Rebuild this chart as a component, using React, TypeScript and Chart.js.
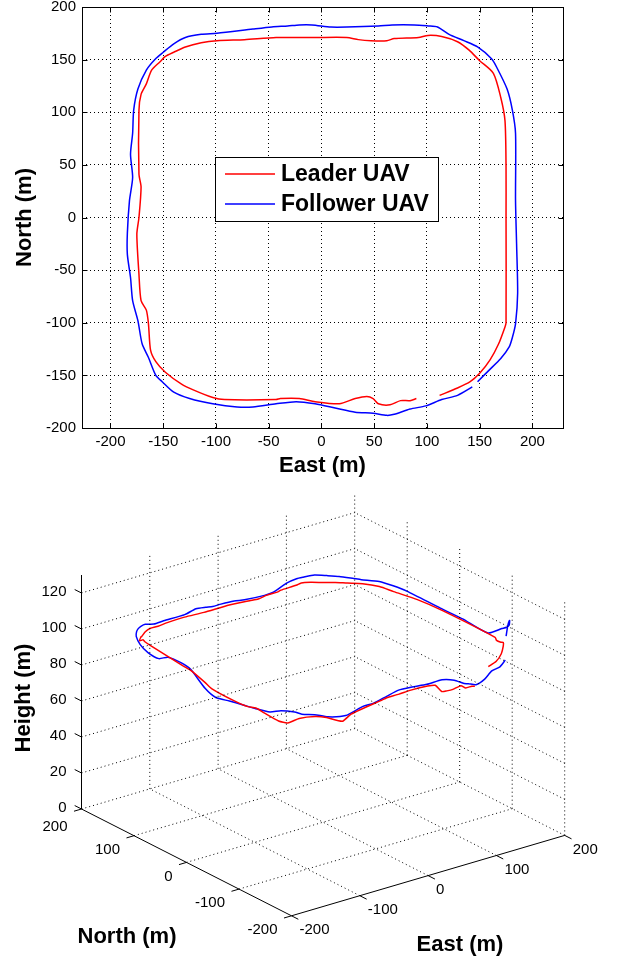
import React, { useEffect, useRef } from 'react';
import { Chart, registerables } from 'chart.js';
Chart.register(...registerables);

// ---------------- data ----------------
const SERIES_LABELS = ['Leader UAV', 'Follower UAV'];
const SERIES_COLORS = ['#ff0000', '#0000ff'];

const LEADER_EAST = [112, 129, 141, 150, 160, 168, 174, 175, 175, 175, 174, 170, 163, 150, 140, 129, 114, 101, 92, 69, 62, 47, 35, 24, -6, -43, -73, -99, -114, -129, -140, -148, -153, -161, -166, -171, -173, -173, -171, -173, -175, -173, -171, -166, -164, -162, -157, -148, -133, -121, -103, -92, -43, -39, -21, -6, 17, 32, 43, 49, 54, 65, 75, 84, 90];
const LEADER_NORTH = [-169, -162, -156, -148, -135, -120, -104, -100, 0, 48, 92, 114, 137, 149, 159, 167, 172, 173, 171, 170, 168, 168, 169, 171, 171, 171, 169, 168, 166, 162, 157, 153, 148, 140, 127, 117, 102, 41, 29, 0, -16, -54, -79, -88, -101, -126, -137, -147, -158, -164, -171, -173, -173, -172, -172, -175, -177, -172, -170, -172, -177, -178, -174, -174, -172];
const LEADER_HEIGHT = [99, 99, 101, 103, 102, 99, 97, 98, 98, 97, 95, 95, 94, 94, 94, 94, 95, 96, 96, 96, 96, 96, 95, 95, 96, 96, 97, 97, 97, 98, 98, 97, 98, 98, 101, 102, 102, 100, 99, 97, 96, 95, 95, 95, 94, 93, 93, 96, 97, 96, 93, 96, 99, 99, 99, 100, 100, 98, 93, 93, 94, 95, 92, 92, 91];

const FOLLOWER_EAST = [148, 159, 170, 178, 181, 184, 186, 185, 184, 184, 181, 176, 166, 161, 148, 135, 121, 110, 101, 88, 67, 54, 24, 9, -9, -21, -32, -47, -65, -99, -114, -129, -140, -150, -157, -166, -174, -178, -179, -181, -179, -182, -184, -184, -181, -179, -174, -170, -164, -157, -151, -140, -125, -103, -80, -65, -43, -24, -6, 13, 32, 49, 62, 69, 84, 99, 114, 129, 143];
const FOLLOWER_NORTH = [-156, -145, -134, -123, -114, -101, -72, -25, 16, 80, 102, 122, 143, 151, 162, 168, 174, 181, 182, 183, 183, 182, 181, 181, 183, 183, 182, 181, 179, 175, 174, 171, 165, 157, 151, 140, 122, 102, 80, 60, 38, 16, -15, -35, -57, -79, -98, -120, -133, -150, -156, -166, -172, -177, -180, -180, -177, -175, -177, -181, -185, -186, -188, -187, -182, -179, -173, -169, -161];
const FOLLOWER_HEIGHT = [110, 113, 113, 108, 105, 102, 95, 96, 96, 96, 96, 96, 95, 95, 96, 97, 98, 97, 97, 96, 93, 93, 94, 95, 95, 95, 96, 97, 96, 97, 97, 99, 100, 101, 101, 101, 100, 99, 99, 103, 103, 103, 97, 95, 96, 97, 97, 98, 100, 101, 100, 100, 98, 97, 100, 100, 101, 102, 102, 102, 103, 101, 98, 97, 94, 95, 97, 97, 98];

const PLAN_X_TICKS = [-200, -150, -100, -50, 0, 50, 100, 150, 200];
const PLAN_Y_TICKS = [-200, -150, -100, -50, 0, 50, 100, 150, 200];
const PLAN_X_RANGE = [-227, 229];
const PLAN_Y_RANGE = [-200, 200];

const EN_TICKS_3D = [-200, -100, 0, 100, 200];
const Z_TICKS_3D = [0, 20, 40, 60, 80, 100, 120];
const Z_MAX_3D = 130;

// ---------------- styles ----------------
const FONT = '"Liberation Sans", Arial, Helvetica, sans-serif';
const TICK_FONT = `15px ${FONT}`;
const TITLE_FONT = `bold 22px ${FONT}`;
const LEGEND_FONT = `bold 23px ${FONT}`;

// projection of the 3-D view (az -37.5, el 30) into view units
const VIEW = { eu: 0.683, nu: -0.525, ev: 0.201, nv: 0.267, zv: 1.8 };
const project = (e: number, n: number, z: number) => ({
  x: VIEW.eu * e + VIEW.nu * n,
  y: VIEW.ev * e + VIEW.nv * n + VIEW.zv * z,
});

const crisp = (v: number) => Math.round(v) + 0.5;

function PlanChart() {
  const ref = useRef<HTMLCanvasElement>(null);
  useEffect(() => {
    const toPts = (xs: number[], ys: number[]) => xs.map((x, i) => ({ x, y: ys[i] }));
    const boxPlugin = {
      id: 'planBox',
      afterDatasetsDraw(chart: any) {
        const { ctx, chartArea: a, scales } = chart;
        ctx.save();
        ctx.strokeStyle = '#000';
        ctx.lineWidth = 1;
        ctx.setLineDash([]);
        const L = crisp(a.left), R = crisp(a.right), T = crisp(a.top), B = crisp(a.bottom);
        ctx.strokeRect(L, T, R - L, B - T);
        const tl = 5;
        ctx.beginPath();
        PLAN_X_TICKS.forEach((v) => {
          const x = crisp(scales.x.getPixelForValue(v));
          ctx.moveTo(x, B); ctx.lineTo(x, B - tl);
          ctx.moveTo(x, T); ctx.lineTo(x, T + tl);
        });
        PLAN_Y_TICKS.forEach((v) => {
          const y = crisp(scales.y.getPixelForValue(v));
          ctx.moveTo(L, y); ctx.lineTo(L + tl, y);
          ctx.moveTo(R, y); ctx.lineTo(R - tl, y);
        });
        ctx.stroke();
        // legend
        const lx = 215.5, ly = 157.5, lw = 223, lh = 64;
        ctx.fillStyle = '#fff';
        ctx.fillRect(lx, ly, lw, lh);
        ctx.strokeRect(lx, ly, lw, lh);
        chart.data.datasets.forEach((ds: any, i: number) => {
          const y = 174 + i * 30;
          ctx.strokeStyle = ds.borderColor;
          ctx.lineWidth = 1.5;
          ctx.beginPath();
          ctx.moveTo(225, y); ctx.lineTo(275, y);
          ctx.stroke();
          ctx.fillStyle = '#000';
          ctx.font = LEGEND_FONT;
          ctx.textAlign = 'left';
          ctx.textBaseline = 'middle';
          ctx.fillText(ds.label, 281, y + 1);
        });
        ctx.restore();
      },
    };
    const tickCfg = { font: { family: FONT, size: 15 }, color: '#000', autoSkip: false, maxRotation: 0 };
    const chart = new Chart(ref.current as HTMLCanvasElement, {
      type: 'scatter',
      data: {
        datasets: [
          { label: SERIES_LABELS[0], data: toPts(LEADER_EAST, LEADER_NORTH), showLine: true, borderColor: SERIES_COLORS[0], backgroundColor: SERIES_COLORS[0], borderWidth: 1.5, pointRadius: 0, tension: 0.25 },
          { label: SERIES_LABELS[1], data: toPts(FOLLOWER_EAST, FOLLOWER_NORTH), showLine: true, borderColor: SERIES_COLORS[1], backgroundColor: SERIES_COLORS[1], borderWidth: 1.5, pointRadius: 0, tension: 0.25 },
        ],
      },
      options: {
        animation: false,
        responsive: false,
        events: [],
        layout: { padding: { left: 0, right: 55, top: 7, bottom: 0 } },
        plugins: { legend: { display: false }, tooltip: { enabled: false } },
        scales: {
          x: {
            type: 'linear', min: PLAN_X_RANGE[0], max: PLAN_X_RANGE[1],
            afterBuildTicks: (s: any) => { s.ticks = PLAN_X_TICKS.map((v) => ({ value: v })); },
            afterFit: (s: any) => { s.height = 52; s.paddingLeft = 0; s.paddingRight = 0; s.paddingTop = 0; s.paddingBottom = 0; },
            grid: { color: '#000', lineWidth: 1, drawTicks: false },
            border: { display: false, dash: [1, 3] },
            ticks: { ...tickCfg, padding: 5 },
            title: { display: true, text: 'East (m)', color: '#000', font: { family: FONT, size: 22, weight: 'bold' }, padding: { top: 0, bottom: 1 } },
          },
          y: {
            type: 'linear', min: PLAN_Y_RANGE[0], max: PLAN_Y_RANGE[1],
            afterBuildTicks: (s: any) => { s.ticks = PLAN_Y_TICKS.map((v) => ({ value: v })); },
            afterFit: (s: any) => { s.width = 82; s.paddingTop = 0; s.paddingBottom = 0; s.paddingLeft = 0; s.paddingRight = 0; },
            grid: { color: '#000', lineWidth: 1, drawTicks: false },
            border: { display: false, dash: [1, 3] },
            ticks: { ...tickCfg, padding: 6 },
            title: { display: true, text: 'North (m)', color: '#000', font: { family: FONT, size: 22, weight: 'bold' }, padding: { top: 12, bottom: 0 } },
          },
        },
      } as any,
      plugins: [boxPlugin],
    });
    return () => chart.destroy();
  }, []);
  return <canvas ref={ref} width={618} height={480} style={{ position: 'absolute', left: 0, top: 0, display: 'block' }} />;
}

function ViewChart() {
  const ref = useRef<HTMLCanvasElement>(null);
  useEffect(() => {
    const W = 618, H = 482;
    const ORIGIN_X = 323.1, ORIGIN_Y = 342.2; // where (0,0,0) falls on this canvas
    const path = (pts: number[][]) => pts.map(([e, n, z]) => project(e, n, z));
    const gridLines: number[][][] = [];
    const lo = EN_TICKS_3D[0], hi = EN_TICKS_3D[EN_TICKS_3D.length - 1];
    // floor
    EN_TICKS_3D.slice(1).forEach((n) => gridLines.push([[lo, n, 0], [hi, n, 0]]));
    EN_TICKS_3D.slice(1).forEach((e) => gridLines.push([[e, lo, 0], [e, hi, 0]]));
    // back wall (north = max)
    EN_TICKS_3D.slice(1).forEach((e) => gridLines.push([[e, hi, 0], [e, hi, Z_MAX_3D]]));
    Z_TICKS_3D.slice(1).forEach((z) => gridLines.push([[lo, hi, z], [hi, hi, z]]));
    // right wall (east = max)
    EN_TICKS_3D.slice(0, -1).forEach((n) => gridLines.push([[hi, n, 0], [hi, n, Z_MAX_3D]]));
    Z_TICKS_3D.slice(1).forEach((z) => gridLines.push([[hi, lo, z], [hi, hi, z]]));

    const gridSets = gridLines.map((l) => ({
      data: path(l), showLine: true, borderColor: '#000', borderWidth: 1, borderDash: [1, 3], pointRadius: 0, label: '',
    }));
    const mk = (es: number[], ns: number[], hs: number[]) => path(es.map((e, i) => [e, ns[i], hs[i]]));

    const axesPlugin = {
      id: 'axes3d',
      afterDatasetsDraw(chart: any) {
        const { ctx, scales } = chart;
        const px = (e: number, n: number, z: number) => {
          const p = project(e, n, z);
          return [scales.x.getPixelForValue(p.x), scales.y.getPixelForValue(p.y)];
        };
        const seg = (a: number[], b: number[]) => { ctx.moveTo(a[0], a[1]); ctx.lineTo(b[0], b[1]); };
        ctx.save();
        ctx.setLineDash([]);
        ctx.strokeStyle = '#000';
        ctx.lineWidth = 1;
        ctx.beginPath();
        seg(px(lo, hi, 0), px(lo, hi, Z_MAX_3D));
        seg(px(lo, hi, 0), px(lo, lo, 0));
        seg(px(lo, lo, 0), px(hi, lo, 0));
        Z_TICKS_3D.forEach((z) => seg(px(lo, hi, z), px(lo, hi + 13, z)));
        EN_TICKS_3D.forEach((n) => seg(px(lo, n, 0), px(lo - 11, n, 0)));
        EN_TICKS_3D.forEach((e) => seg(px(e, lo, 0), px(e, lo - 13, 0)));
        ctx.stroke();
        ctx.fillStyle = '#000';
        ctx.font = TICK_FONT;
        ctx.textBaseline = 'middle';
        ctx.textAlign = 'right';
        Z_TICKS_3D.forEach((z) => { const p = px(lo, hi, z); ctx.fillText(String(z), p[0] - 15, p[1] - 1); });
        EN_TICKS_3D.forEach((n) => { const p = px(lo, n, 0); ctx.fillText(String(n), p[0] - 14, p[1] + (n === hi ? 18 : 14)); });
        ctx.textAlign = 'left';
        EN_TICKS_3D.forEach((e) => { const p = px(e, lo, 0); ctx.fillText(String(e), p[0] + 8, p[1] + 14.5); });
        ctx.font = TITLE_FONT;
        ctx.textAlign = 'center';
        ctx.fillText('North (m)', 127, 457);
        ctx.fillText('East (m)', 460, 465);
        ctx.translate(24, 218);
        ctx.rotate(-Math.PI / 2);
        ctx.fillText('Height (m)', 0, 0);
        ctx.restore();
      },
    };

    const chart = new Chart(ref.current as HTMLCanvasElement, {
      type: 'scatter',
      data: {
        datasets: [
          ...gridSets,
          { label: SERIES_LABELS[0], data: mk(LEADER_EAST, LEADER_NORTH, LEADER_HEIGHT), showLine: true, borderColor: SERIES_COLORS[0], borderWidth: 1.5, pointRadius: 0, tension: 0.2 },
          { label: SERIES_LABELS[1], data: mk(FOLLOWER_EAST, FOLLOWER_NORTH, FOLLOWER_HEIGHT), showLine: true, borderColor: SERIES_COLORS[1], borderWidth: 1.5, pointRadius: 0, tension: 0.2 },
        ],
      },
      options: {
        animation: false,
        responsive: false,
        events: [],
        layout: { padding: 0 },
        plugins: { legend: { display: false }, tooltip: { enabled: false } },
        scales: {
          x: { type: 'linear', display: false, min: -ORIGIN_X, max: W - ORIGIN_X },
          y: { type: 'linear', display: false, min: ORIGIN_Y - H, max: ORIGIN_Y },
        },
      } as any,
      plugins: [axesPlugin],
    });
    return () => chart.destroy();
  }, []);
  return <canvas ref={ref} width={618} height={482} style={{ position: 'absolute', left: 0, top: 480, display: 'block' }} />;
}

export default function App() {
  return (
    <div style={{ position: 'absolute', left: 0, top: 0, width: 618, height: 962, background: '#fff' }}>
      <PlanChart />
      <ViewChart />
    </div>
  );
}
